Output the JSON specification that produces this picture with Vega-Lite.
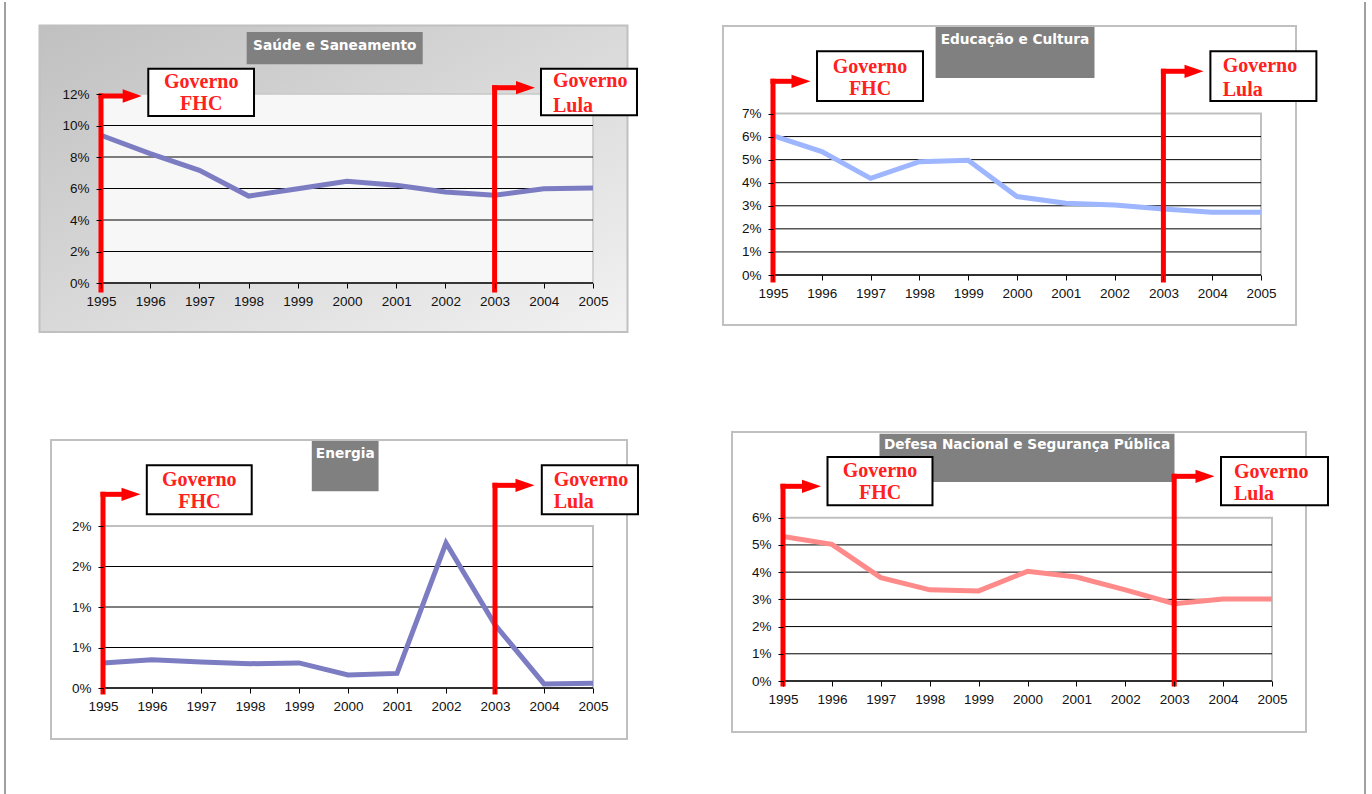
{
"$schema": "https://vega.github.io/schema/vega-lite/v6.json",
"background": "white",
"padding": 0,
"autosize": {"type": "pad"},
"columns": 2,
"spacing": 0,
"bounds": "flush",
"config": {
  "view": {"stroke": null, "fill": "white"},
  "axis": {"labelFont": "Liberation Sans", "labelFontSize": 13.5, "labelColor": "#111", "tickColor": "#000", "tickSize": 5, "tickWidth": 1, "domain": false, "grid": false, "labelPadding": 5}
},
"datasets": {
  "saude": [{"year":1995,"v":9.38},{"year":1996,"v":8.21},{"year":1997,"v":7.15},{"year":1998,"v":5.52},{"year":1999,"v":5.99},{"year":2000,"v":6.46},{"year":2001,"v":6.2},{"year":2002,"v":5.78},{"year":2003,"v":5.57},{"year":2004,"v":5.99},{"year":2005,"v":6.03}],
  "educacao": [{"year":1995,"v":6.04},{"year":1996,"v":5.35},{"year":1997,"v":4.19},{"year":1998,"v":4.91},{"year":1999,"v":4.97},{"year":2000,"v":3.4},{"year":2001,"v":3.11},{"year":2002,"v":3.03},{"year":2003,"v":2.86},{"year":2004,"v":2.72},{"year":2005,"v":2.72}],
  "energia": [{"year":1995,"v":0.31},{"year":1996,"v":0.35},{"year":1997,"v":0.32},{"year":1998,"v":0.3},{"year":1999,"v":0.31},{"year":2000,"v":0.16},{"year":2001,"v":0.18},{"year":2002,"v":1.79},{"year":2003,"v":0.78},{"year":2004,"v":0.05},{"year":2005,"v":0.06}],
  "defesa": [{"year":1995,"v":5.31},{"year":1996,"v":5.02},{"year":1997,"v":3.8},{"year":1998,"v":3.35},{"year":1999,"v":3.31},{"year":2000,"v":4.03},{"year":2001,"v":3.82},{"year":2002,"v":3.35},{"year":2003,"v":2.84},{"year":2004,"v":3.01},{"year":2005,"v":3.01}]
},
"concat": [
{
  "width": 686, "height": 397,
  "layer": [
    {"data": {"values": [{}]},
     "mark": {"type": "rect", "fill": {"gradient": "linear", "x1": 0, "y1": 0, "x2": 1, "y2": 1, "stops": [{"offset": 0, "color": "#c0c0c0"}, {"offset": 1, "color": "#f2f2f2"}]}, "stroke": "#c0c0c0", "strokeWidth": 2},
     "encoding": {
       "x": {"datum": 1993.75, "type": "quantitative", "scale": {"domain": [1995, 2005], "range": [101, 593], "nice": false, "zero": false},
             "axis": {"title": null, "zindex": 1, "values": [1995,1996,1997,1998,1999,2000,2001,2002,2003,2004,2005], "format": "d", "offset": -116, "labelPadding": 6, "labelOverlap": false, "labelFlush": false}},
       "x2": {"datum": 2005.701},
       "y": {"datum": -3.111, "type": "quantitative", "scale": {"domain": [0, 12], "range": [281, 92], "nice": false, "zero": false},
             "axis": {"title": null, "zindex": 1, "values": [0,2,4,6,8,10,12], "labelExpr": "format(datum.value, '.0f') + '%'", "offset": -101, "labelPadding": 7}},
       "y2": {"datum": 16.349}}},
    {"data": {"values": [{}]},
     "mark": {"type": "rect", "fill": "#f7f7f7", "stroke": "#c8c8c8", "strokeWidth": 1.5},
     "encoding": {"x": {"datum": 1995, "type": "quantitative"}, "x2": {"datum": 2005}, "y": {"datum": 0, "type": "quantitative"}, "y2": {"datum": 12}}},
    {"data": {"values": [{"g": 2}, {"g": 4}, {"g": 6}, {"g": 8}, {"g": 10}]},
     "mark": {"type": "rule", "color": "#000", "strokeWidth": 1},
     "encoding": {"x": {"datum": 1995, "type": "quantitative"}, "x2": {"datum": 2005}, "y": {"field": "g", "type": "quantitative"}}},
    {"data": {"values": [{}]},
     "mark": {"type": "rule", "color": "#000", "strokeWidth": 1.5},
     "encoding": {"x": {"datum": 1995, "type": "quantitative"}, "x2": {"datum": 2005}, "y": {"datum": 0, "type": "quantitative"}}},
    {"data": {"values": [{}]},
     "mark": {"type": "rect", "fill": "#808080"},
     "encoding": {"x": {"datum": 1997.961, "type": "quantitative"}, "x2": {"datum": 2001.539}, "y": {"datum": 13.886, "type": "quantitative"}, "y2": {"datum": 15.937}}},
    {"data": {"values": [{"t": "Saúde e Saneamento"}]},
     "mark": {"type": "text", "font": "DejaVu Sans", "fontWeight": "bold", "fontSize": 13.7, "color": "white", "align": "center", "baseline": "alphabetic"},
     "encoding": {"x": {"datum": 1999.75, "type": "quantitative"}, "y": {"datum": 14.775, "type": "quantitative"}, "text": {"field": "t"}}},
    {"data": {"name": "saude"},
     "mark": {"type": "line", "color": "#7c7cc2", "strokeWidth": 5},
     "encoding": {"x": {"field": "year", "type": "quantitative"}, "y": {"field": "v", "type": "quantitative"}}},
    {"data": {"values": [{"x": 1995, "x2": 1995, "y": -0.444, "y2": 11.873}, {"x": 1995, "x2": 1995.528, "y": 11.873, "y2": 11.873}, {"x": 2003, "x2": 2003, "y": -0.444, "y2": 12.4}, {"x": 2003, "x2": 2003.415, "y": 12.4, "y2": 12.4}]},
     "mark": {"type": "rule", "color": "#ff0000", "strokeWidth": 5, "strokeCap": "square"},
     "encoding": {"x": {"field": "x", "type": "quantitative"}, "x2": {"field": "x2"}, "y": {"field": "y", "type": "quantitative"}, "y2": {"field": "y2"}}},
    {"data": {"values": [{"x": 1995.634, "y": 11.873}, {"x": 2003.628, "y": 12.4}]},
     "mark": {"type": "point", "shape": "M-1,-0.7L1,0L-1,0.7Z", "filled": true, "color": "#ff0000", "opacity": 1, "size": 361},
     "encoding": {"x": {"field": "x", "type": "quantitative"}, "y": {"field": "y", "type": "quantitative"}}},
    {"data": {"values": [{"x": 1995.961, "x2": 1998.11, "y": 10.603, "y2": 13.606}, {"x": 2003.943, "x2": 2005.894, "y": 10.648, "y2": 13.606}]},
     "mark": {"type": "rect", "fill": "white", "stroke": "#000", "strokeWidth": 2},
     "encoding": {"x": {"field": "x", "type": "quantitative"}, "x2": {"field": "x2"}, "y": {"field": "y", "type": "quantitative"}, "y2": {"field": "y2"}}},
    {"data": {"values": [{"x": 1997.037, "y": 12.381, "t": "Governo"}, {"x": 1997.037, "y": 10.984, "t": "FHC"}]},
     "mark": {"type": "text", "font": "Liberation Serif", "fontWeight": "bold", "fontSize": 20, "color": "#ff2020", "align": "center", "baseline": "alphabetic"},
     "encoding": {"x": {"field": "x", "type": "quantitative"}, "y": {"field": "y", "type": "quantitative"}, "text": {"field": "t"}}},
    {"data": {"values": [{"x": 2004.187, "y": 12.444, "t": "Governo"}, {"x": 2004.187, "y": 10.857, "t": "Lula"}]},
     "mark": {"type": "text", "font": "Liberation Serif", "fontWeight": "bold", "fontSize": 20, "color": "#ff2020", "align": "left", "baseline": "alphabetic"},
     "encoding": {"x": {"field": "x", "type": "quantitative"}, "y": {"field": "y", "type": "quantitative"}, "text": {"field": "t"}}},
    {"data": {"values": [{}]},
     "mark": {"type": "rule", "color": "#a0a0a0", "strokeWidth": 2},
     "encoding": {"x": {"datum": 1993.049, "type": "quantitative"}, "y": {"datum": -7.365, "type": "quantitative"}, "y2": {"datum": 17.84}}}
  ]
},
{
  "width": 686, "height": 397,
  "layer": [
    {"data": {"values": [{}]},
     "mark": {"type": "rect", "fill": "white", "stroke": "#c0c0c0", "strokeWidth": 2},
     "encoding": {
       "x": {"datum": 1993.975, "type": "quantitative", "scale": {"domain": [1995, 2005], "range": [87, 575], "nice": false, "zero": false},
             "axis": {"title": null, "zindex": 1, "values": [1995,1996,1997,1998,1999,2000,2001,2002,2003,2004,2005], "format": "d", "offset": -124, "labelPadding": 6, "labelOverlap": false, "labelFlush": false}},
       "x2": {"datum": 2005.717},
       "y": {"datum": -2.167, "type": "quantitative", "scale": {"domain": [0, 7], "range": [273, 111.5], "nice": false, "zero": false},
             "axis": {"title": null, "zindex": 1, "values": [0,1,2,3,4,5,6,7], "labelExpr": "format(datum.value, '.0f') + '%'", "offset": -87, "labelPadding": 7}},
       "y2": {"datum": 10.793}}},
    {"data": {"values": [{}]},
     "mark": {"type": "rect", "fill": "white", "stroke": "#c0c0c0", "strokeWidth": 2},
     "encoding": {"x": {"datum": 1995, "type": "quantitative"}, "x2": {"datum": 2005}, "y": {"datum": 0, "type": "quantitative"}, "y2": {"datum": 7}}},
    {"data": {"values": [{"g": 1}, {"g": 2}, {"g": 3}, {"g": 4}, {"g": 5}, {"g": 6}]},
     "mark": {"type": "rule", "color": "#000", "strokeWidth": 1},
     "encoding": {"x": {"datum": 1995, "type": "quantitative"}, "x2": {"datum": 2005}, "y": {"field": "g", "type": "quantitative"}}},
    {"data": {"values": [{}]},
     "mark": {"type": "rule", "color": "#000", "strokeWidth": 1.5},
     "encoding": {"x": {"datum": 1995, "type": "quantitative"}, "x2": {"datum": 2005}, "y": {"datum": 0, "type": "quantitative"}}},
    {"data": {"values": [{}]},
     "mark": {"type": "rect", "fill": "#808080"},
     "encoding": {"x": {"datum": 1998.332, "type": "quantitative"}, "x2": {"datum": 2001.588}, "y": {"datum": 8.539, "type": "quantitative"}, "y2": {"datum": 10.75}}},
    {"data": {"values": [{"t": "Educação e Cultura"}]},
     "mark": {"type": "text", "font": "DejaVu Sans", "fontWeight": "bold", "fontSize": 13.7, "color": "white", "align": "center", "baseline": "alphabetic"},
     "encoding": {"x": {"datum": 1999.959, "type": "quantitative"}, "y": {"datum": 10.026, "type": "quantitative"}, "text": {"field": "t"}}},
    {"data": {"name": "educacao"},
     "mark": {"type": "line", "color": "#9db6ff", "strokeWidth": 5},
     "encoding": {"x": {"field": "year", "type": "quantitative"}, "y": {"field": "v", "type": "quantitative"}}},
    {"data": {"values": [{"x": 1995, "x2": 1995, "y": -0.217, "y2": 8.396}, {"x": 1995, "x2": 1995.389, "y": 8.396, "y2": 8.396}, {"x": 2003, "x2": 2003, "y": -0.217, "y2": 8.83}, {"x": 2003, "x2": 2003.43, "y": 8.83, "y2": 8.83}]},
     "mark": {"type": "rule", "color": "#ff0000", "strokeWidth": 5, "strokeCap": "square"},
     "encoding": {"x": {"field": "x", "type": "quantitative"}, "x2": {"field": "x2"}, "y": {"field": "y", "type": "quantitative"}, "y2": {"field": "y2"}}},
    {"data": {"values": [{"x": 1995.574, "y": 8.396}, {"x": 2003.627, "y": 8.83}]},
     "mark": {"type": "point", "shape": "M-1,-0.7L1,0L-1,0.7Z", "filled": true, "color": "#ff0000", "opacity": 1, "size": 361},
     "encoding": {"x": {"field": "x", "type": "quantitative"}, "y": {"field": "y", "type": "quantitative"}}},
    {"data": {"values": [{"x": 1995.902, "x2": 1998.074, "y": 7.542, "y2": 9.697}, {"x": 2003.963, "x2": 2006.135, "y": 7.542, "y2": 9.697}]},
     "mark": {"type": "rect", "fill": "white", "stroke": "#000", "strokeWidth": 2},
     "encoding": {"x": {"field": "x", "type": "quantitative"}, "x2": {"field": "x2"}, "y": {"field": "y", "type": "quantitative"}, "y2": {"field": "y2"}}},
    {"data": {"values": [{"x": 1996.988, "y": 8.756, "t": "Governo"}, {"x": 1996.988, "y": 7.802, "t": "FHC"}]},
     "mark": {"type": "text", "font": "Liberation Serif", "fontWeight": "bold", "fontSize": 20, "color": "#ff2020", "align": "center", "baseline": "alphabetic"},
     "encoding": {"x": {"field": "x", "type": "quantitative"}, "y": {"field": "y", "type": "quantitative"}, "text": {"field": "t"}}},
    {"data": {"values": [{"x": 2004.215, "y": 8.799, "t": "Governo"}, {"x": 2004.215, "y": 7.759, "t": "Lula"}]},
     "mark": {"type": "text", "font": "Liberation Serif", "fontWeight": "bold", "fontSize": 20, "color": "#ff2020", "align": "left", "baseline": "alphabetic"},
     "encoding": {"x": {"field": "x", "type": "quantitative"}, "y": {"field": "y", "type": "quantitative"}, "text": {"field": "t"}}},
    {"data": {"values": [{}]},
     "mark": {"type": "rule", "color": "#a0a0a0", "strokeWidth": 2},
     "encoding": {"x": {"datum": 2007.131, "type": "quantitative"}, "y": {"datum": -5.375, "type": "quantitative"}, "y2": {"datum": 11.834}}}
  ]
},
{
  "width": 686, "height": 397,
  "layer": [
    {"data": {"values": [{}]},
     "mark": {"type": "rect", "fill": "white", "stroke": "#c0c0c0", "strokeWidth": 2},
     "encoding": {
       "x": {"datum": 1993.939, "type": "quantitative", "scale": {"domain": [1995, 2005], "range": [103, 593], "nice": false, "zero": false},
             "axis": {"title": null, "zindex": 1, "values": [1995,1996,1997,1998,1999,2000,2001,2002,2003,2004,2005], "format": "d", "offset": -108, "labelPadding": 6, "labelOverlap": false, "labelFlush": false}},
       "x2": {"datum": 2005.694},
       "y": {"datum": -0.63, "type": "quantitative", "scale": {"domain": [0, 2], "range": [289, 127], "nice": false, "zero": false},
             "axis": {"title": null, "zindex": 1, "values": [0,0.5,1,1.5,2], "labelExpr": "format(datum.value, '.0f') + '%'", "offset": -103, "labelPadding": 7}},
       "y2": {"datum": 3.062}}},
    {"data": {"values": [{}]},
     "mark": {"type": "rect", "fill": "white", "stroke": "#c0c0c0", "strokeWidth": 2},
     "encoding": {"x": {"datum": 1995, "type": "quantitative"}, "x2": {"datum": 2005}, "y": {"datum": 0, "type": "quantitative"}, "y2": {"datum": 2}}},
    {"data": {"values": [{"g": 0.5}, {"g": 1}, {"g": 1.5}]},
     "mark": {"type": "rule", "color": "#000", "strokeWidth": 1},
     "encoding": {"x": {"datum": 1995, "type": "quantitative"}, "x2": {"datum": 2005}, "y": {"field": "g", "type": "quantitative"}}},
    {"data": {"values": [{}]},
     "mark": {"type": "rule", "color": "#000", "strokeWidth": 1.5},
     "encoding": {"x": {"datum": 1995, "type": "quantitative"}, "x2": {"datum": 2005}, "y": {"datum": 0, "type": "quantitative"}}},
    {"data": {"values": [{}]},
     "mark": {"type": "rect", "fill": "#808080"},
     "encoding": {"x": {"datum": 1999.261, "type": "quantitative"}, "x2": {"datum": 2000.624}, "y": {"datum": 2.428, "type": "quantitative"}, "y2": {"datum": 3.049}}},
    {"data": {"values": [{"t": "Energia"}]},
     "mark": {"type": "text", "font": "DejaVu Sans", "fontWeight": "bold", "fontSize": 13.7, "color": "white", "align": "center", "baseline": "alphabetic"},
     "encoding": {"x": {"datum": 1999.943, "type": "quantitative"}, "y": {"datum": 2.843, "type": "quantitative"}, "text": {"field": "t"}}},
    {"data": {"name": "energia"},
     "mark": {"type": "line", "color": "#7c7cc2", "strokeWidth": 5},
     "encoding": {"x": {"field": "year", "type": "quantitative"}, "y": {"field": "v", "type": "quantitative"}}},
    {"data": {"values": [{"x": 1995, "x2": 1995, "y": -0.049, "y2": 2.391}, {"x": 1995, "x2": 1995.402, "y": 2.391, "y2": 2.391}, {"x": 2003, "x2": 2003, "y": -0.049, "y2": 2.502}, {"x": 2003, "x2": 2003.424, "y": 2.502, "y2": 2.502}]},
     "mark": {"type": "rule", "color": "#ff0000", "strokeWidth": 5, "strokeCap": "square"},
     "encoding": {"x": {"field": "x", "type": "quantitative"}, "x2": {"field": "x2"}, "y": {"field": "y", "type": "quantitative"}, "y2": {"field": "y2"}}},
    {"data": {"values": [{"x": 1995.571, "y": 2.391}, {"x": 2003.612, "y": 2.502}]},
     "mark": {"type": "point", "shape": "M-1,-0.7L1,0L-1,0.7Z", "filled": true, "color": "#ff0000", "opacity": 1, "size": 361},
     "encoding": {"x": {"field": "x", "type": "quantitative"}, "y": {"field": "y", "type": "quantitative"}}},
    {"data": {"values": [{"x": 1995.894, "x2": 1998.035, "y": 2.144, "y2": 2.749}, {"x": 2003.955, "x2": 2005.918, "y": 2.144, "y2": 2.749}]},
     "mark": {"type": "rect", "fill": "white", "stroke": "#000", "strokeWidth": 2},
     "encoding": {"x": {"field": "x", "type": "quantitative"}, "x2": {"field": "x2"}, "y": {"field": "y", "type": "quantitative"}, "y2": {"field": "y2"}}},
    {"data": {"values": [{"x": 1996.965, "y": 2.49, "t": "Governo"}, {"x": 1996.965, "y": 2.219, "t": "FHC"}]},
     "mark": {"type": "text", "font": "Liberation Serif", "fontWeight": "bold", "fontSize": 20, "color": "#ff2020", "align": "center", "baseline": "alphabetic"},
     "encoding": {"x": {"field": "x", "type": "quantitative"}, "y": {"field": "y", "type": "quantitative"}, "text": {"field": "t"}}},
    {"data": {"values": [{"x": 2004.198, "y": 2.49, "t": "Governo"}, {"x": 2004.198, "y": 2.219, "t": "Lula"}]},
     "mark": {"type": "text", "font": "Liberation Serif", "fontWeight": "bold", "fontSize": 20, "color": "#ff2020", "align": "left", "baseline": "alphabetic"},
     "encoding": {"x": {"field": "x", "type": "quantitative"}, "y": {"field": "y", "type": "quantitative"}, "text": {"field": "t"}}},
    {"data": {"values": [{}]},
     "mark": {"type": "rule", "color": "#a0a0a0", "strokeWidth": 2},
     "encoding": {"x": {"datum": 1993.0, "type": "quantitative"}, "y": {"datum": -1.333, "type": "quantitative"}, "y2": {"datum": 3.568}}}
  ]
},
{
  "width": 686, "height": 397,
  "layer": [
    {"data": {"values": [{}]},
     "mark": {"type": "rect", "fill": "white", "stroke": "#c0c0c0", "strokeWidth": 2},
     "encoding": {
       "x": {"datum": 1993.957, "type": "quantitative", "scale": {"domain": [1995, 2005], "range": [97, 586], "nice": false, "zero": false},
             "axis": {"title": null, "zindex": 1, "values": [1995,1996,1997,1998,1999,2000,2001,2002,2003,2004,2005], "format": "d", "offset": -115, "labelPadding": 6, "labelOverlap": false, "labelFlush": false}},
       "x2": {"datum": 2005.695},
       "y": {"datum": -1.874, "type": "quantitative", "scale": {"domain": [0, 6], "range": [282, 118.7], "nice": false, "zero": false},
             "axis": {"title": null, "zindex": 1, "values": [0,1,2,3,4,5,6], "labelExpr": "format(datum.value, '.0f') + '%'", "offset": -97, "labelPadding": 7}},
       "y2": {"datum": 9.148}}},
    {"data": {"values": [{}]},
     "mark": {"type": "rect", "fill": "white", "stroke": "#c0c0c0", "strokeWidth": 2},
     "encoding": {"x": {"datum": 1995, "type": "quantitative"}, "x2": {"datum": 2005}, "y": {"datum": 0, "type": "quantitative"}, "y2": {"datum": 6}}},
    {"data": {"values": [{"g": 1}, {"g": 2}, {"g": 3}, {"g": 4}, {"g": 5}]},
     "mark": {"type": "rule", "color": "#000", "strokeWidth": 1},
     "encoding": {"x": {"datum": 1995, "type": "quantitative"}, "x2": {"datum": 2005}, "y": {"field": "g", "type": "quantitative"}}},
    {"data": {"values": [{}]},
     "mark": {"type": "rule", "color": "#000", "strokeWidth": 1.5},
     "encoding": {"x": {"datum": 1995, "type": "quantitative"}, "x2": {"datum": 2005}, "y": {"datum": 0, "type": "quantitative"}}},
    {"data": {"values": [{}]},
     "mark": {"type": "rect", "fill": "#808080"},
     "encoding": {"x": {"datum": 1996.973, "type": "quantitative"}, "x2": {"datum": 2003.006}, "y": {"datum": 7.311, "type": "quantitative"}, "y2": {"datum": 9.085}}},
    {"data": {"values": [{"t": "Defesa Nacional e Segurança Pública"}]},
     "mark": {"type": "text", "font": "DejaVu Sans", "fontWeight": "bold", "fontSize": 13.7, "color": "white", "align": "center", "baseline": "alphabetic"},
     "encoding": {"x": {"datum": 1999.99, "type": "quantitative"}, "y": {"datum": 8.534, "type": "quantitative"}, "text": {"field": "t"}}},
    {"data": {"name": "defesa"},
     "mark": {"type": "line", "color": "#ff8a8a", "strokeWidth": 5},
     "encoding": {"x": {"field": "year", "type": "quantitative"}, "y": {"field": "v", "type": "quantitative"}}},
    {"data": {"values": [{"x": 1995, "x2": 1995, "y": -0.11, "y2": 7.153}, {"x": 1995, "x2": 1995.395, "y": 7.153, "y2": 7.153}, {"x": 2003, "x2": 2003, "y": -0.11, "y2": 7.52}, {"x": 2003, "x2": 2003.44, "y": 7.52, "y2": 7.52}]},
     "mark": {"type": "rule", "color": "#ff0000", "strokeWidth": 5, "strokeCap": "square"},
     "encoding": {"x": {"field": "x", "type": "quantitative"}, "x2": {"field": "x2"}, "y": {"field": "y", "type": "quantitative"}, "y2": {"field": "y2"}}},
    {"data": {"values": [{"x": 1995.583, "y": 7.153}, {"x": 2003.63, "y": 7.52}]},
     "mark": {"type": "point", "shape": "M-1,-0.7L1,0L-1,0.7Z", "filled": true, "color": "#ff0000", "opacity": 1, "size": 361},
     "encoding": {"x": {"field": "x", "type": "quantitative"}, "y": {"field": "y", "type": "quantitative"}}},
    {"data": {"values": [{"x": 1995.91, "x2": 1998.057, "y": 6.455, "y2": 8.229}, {"x": 2003.957, "x2": 2006.145, "y": 6.455, "y2": 8.229}]},
     "mark": {"type": "rect", "fill": "white", "stroke": "#000", "strokeWidth": 2},
     "encoding": {"x": {"field": "x", "type": "quantitative"}, "x2": {"field": "x2"}, "y": {"field": "y", "type": "quantitative"}, "y2": {"field": "y2"}}},
    {"data": {"values": [{"x": 1996.984, "y": 7.483, "t": "Governo"}, {"x": 1996.984, "y": 6.675, "t": "FHC"}]},
     "mark": {"type": "text", "font": "Liberation Serif", "fontWeight": "bold", "fontSize": 20, "color": "#ff2020", "align": "center", "baseline": "alphabetic"},
     "encoding": {"x": {"field": "x", "type": "quantitative"}, "y": {"field": "y", "type": "quantitative"}, "text": {"field": "t"}}},
    {"data": {"values": [{"x": 2004.223, "y": 7.465, "t": "Governo"}, {"x": 2004.223, "y": 6.657, "t": "Lula"}]},
     "mark": {"type": "text", "font": "Liberation Serif", "fontWeight": "bold", "fontSize": 20, "color": "#ff2020", "align": "left", "baseline": "alphabetic"},
     "encoding": {"x": {"field": "x", "type": "quantitative"}, "y": {"field": "y", "type": "quantitative"}, "text": {"field": "t"}}},
    {"data": {"values": [{}]},
     "mark": {"type": "rule", "color": "#a0a0a0", "strokeWidth": 2},
     "encoding": {"x": {"datum": 2006.902, "type": "quantitative"}, "y": {"datum": -4.225, "type": "quantitative"}, "y2": {"datum": 10.36}}}
  ]
}
]
}
